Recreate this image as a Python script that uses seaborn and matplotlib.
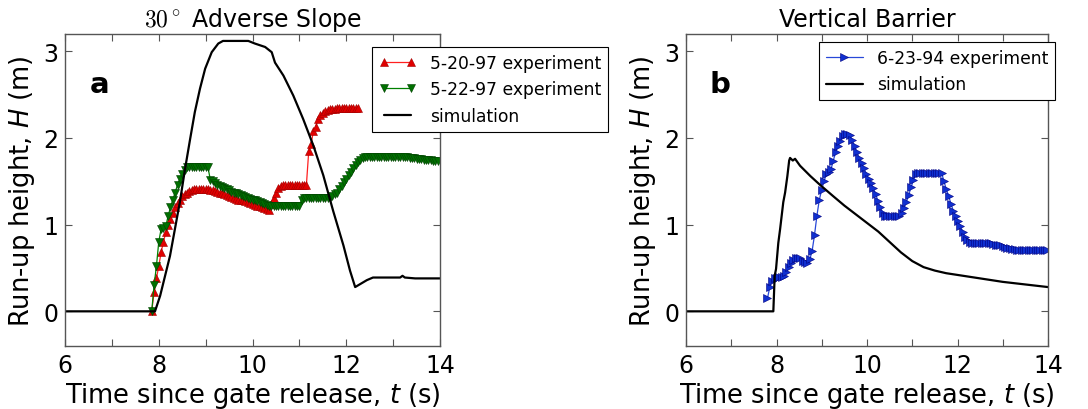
import numpy as np
import matplotlib
matplotlib.use('Agg')
import matplotlib.pyplot as plt
from matplotlib.ticker import MultipleLocator
import seaborn as sns

sns.set_style('ticks')
plt.rcParams['font.family'] = ['DejaVu Sans']
plt.rcParams['mathtext.fontset'] = 'dejavusans'
plt.rcParams['xtick.direction'] = 'in'
plt.rcParams['ytick.direction'] = 'in'
plt.rcParams['text.color'] = 'black'
plt.rcParams['axes.labelcolor'] = 'black'
plt.rcParams['xtick.labelcolor'] = 'black'
plt.rcParams['ytick.labelcolor'] = 'black'

# ==================== data ====================
# experiments: run-up read every frame (start time, frame step)
t0_52097, dt_52097 = 7.85, 0.05
h_52097 = [0.00, 0.22, 0.38, 0.52, 0.68, 0.80, 0.91, 1.00, 1.06, 1.13,
           1.20, 1.25, 1.29, 1.33, 1.35, 1.37, 1.39, 1.40, 1.41, 1.41,
           1.41, 1.41, 1.41, 1.41, 1.41, 1.40, 1.40, 1.39, 1.38, 1.37,
           1.36, 1.35, 1.34, 1.33, 1.32, 1.31, 1.30, 1.29, 1.28, 1.28,
           1.27, 1.26, 1.25, 1.24, 1.23, 1.22, 1.21, 1.20, 1.19, 1.18,
           1.17, 1.24, 1.31, 1.37, 1.42, 1.45, 1.46, 1.46, 1.46, 1.46,
           1.46, 1.46, 1.46, 1.46, 1.46, 1.46, 1.46, 1.85, 1.93, 2.08,
           2.13, 2.22, 2.26, 2.29, 2.31, 2.32, 2.33, 2.34, 2.34, 2.35,
           2.35, 2.35, 2.35, 2.35, 2.35, 2.35, 2.35, 2.35, 2.35]

t0_52297, dt_52297 = 7.85, 0.05
h_52297 = [0.00, 0.30, 0.52, 0.80, 0.95, 0.96, 0.98, 1.10, 1.20, 1.29,
           1.37, 1.46, 1.53, 1.59, 1.63, 1.66, 1.66, 1.66, 1.66, 1.66,
           1.66, 1.66, 1.66, 1.66, 1.66, 1.52, 1.50, 1.48, 1.46, 1.45,
           1.44, 1.42, 1.41, 1.40, 1.38, 1.37, 1.36, 1.35, 1.34, 1.33,
           1.32, 1.31, 1.30, 1.29, 1.28, 1.27, 1.26, 1.25, 1.24, 1.23,
           1.22, 1.22, 1.21, 1.21, 1.21, 1.21, 1.21, 1.21, 1.21, 1.21,
           1.21, 1.21, 1.21, 1.22, 1.29, 1.31, 1.31, 1.31, 1.31, 1.31,
           1.31, 1.31, 1.31, 1.31, 1.31, 1.31, 1.31, 1.33, 1.35, 1.37,
           1.41, 1.45, 1.49, 1.53, 1.57, 1.61, 1.65, 1.69, 1.72, 1.75,
           1.77, 1.78, 1.78, 1.78, 1.78, 1.78, 1.78, 1.78, 1.78, 1.78,
           1.78, 1.78, 1.78, 1.78, 1.78, 1.78, 1.78, 1.78, 1.78, 1.78,
           1.77, 1.77, 1.77, 1.76, 1.76, 1.76, 1.75, 1.75, 1.75, 1.75,
           1.74, 1.74, 1.74]

t0_62394, dt_62394 = 7.80, 0.052
h_62394 = [0.15, 0.28, 0.35, 0.39, 0.39, 0.40, 0.40, 0.41, 0.45, 0.51,
           0.56, 0.59, 0.61, 0.62, 0.61, 0.58, 0.57, 0.56, 0.60, 0.70,
           0.88, 1.10, 1.28, 1.40, 1.50, 1.58, 1.61, 1.64, 1.74, 1.84,
           1.91, 1.97, 2.02, 2.05, 2.05, 2.03, 1.98, 1.91, 1.84, 1.77,
           1.71, 1.65, 1.59, 1.53, 1.48, 1.42, 1.35, 1.27, 1.20, 1.14,
           1.10, 1.10, 1.10, 1.10, 1.10, 1.10, 1.10, 1.13, 1.19, 1.26,
           1.34, 1.43, 1.51, 1.58, 1.60, 1.60, 1.60, 1.60, 1.60, 1.60,
           1.60, 1.60, 1.60, 1.60, 1.60, 1.50, 1.41, 1.33, 1.24, 1.16,
           1.10, 1.04, 0.98, 0.92, 0.86, 0.82, 0.80, 0.79, 0.79, 0.79,
           0.79, 0.79, 0.79, 0.79, 0.79, 0.79, 0.78, 0.77, 0.77, 0.76,
           0.75, 0.74, 0.73, 0.73, 0.72, 0.72, 0.71, 0.71, 0.71, 0.71,
           0.71, 0.71, 0.71, 0.71, 0.71, 0.71, 0.71, 0.71, 0.71, 0.71,
           0.71]

# simulations
t_sim_a = [6.00, 7.92, 8.03, 8.24, 8.45, 8.56, 8.67, 8.77, 8.88, 8.99,
           9.13, 9.27, 9.37, 9.91, 10.05, 10.27, 10.41, 10.48, 10.66, 10.87,
           11.08, 11.30, 11.51, 11.72, 11.94, 12.08, 12.19, 12.44, 12.57, 13.15,
           13.20, 13.25, 13.47, 14.00]
h_sim_a = [0.00, 0.00, 0.18, 0.64, 1.26, 1.64, 1.99, 2.30, 2.57, 2.80,
           2.99, 3.09, 3.12, 3.12, 3.09, 3.05, 2.99, 2.87, 2.72, 2.49,
           2.22, 1.91, 1.57, 1.16, 0.76, 0.47, 0.28, 0.36, 0.39, 0.39,
           0.41, 0.39, 0.38, 0.38]

t_sim_b = [6.00, 7.93, 7.96, 7.99, 8.04, 8.08, 8.15, 8.19, 8.24, 8.28,
           8.30, 8.36, 8.41, 8.52, 8.75, 8.96, 9.25, 9.50, 9.75, 10.00,
           10.25, 10.50, 10.75, 11.00, 11.25, 11.50, 11.75, 12.00, 12.50, 13.00,
           13.50, 14.00]
h_sim_b = [0.00, 0.00, 0.41, 0.49, 0.79, 0.95, 1.26, 1.37, 1.56, 1.74,
           1.77, 1.74, 1.76, 1.68, 1.56, 1.46, 1.33, 1.22, 1.12, 1.02,
           0.92, 0.80, 0.68, 0.58, 0.51, 0.47, 0.44, 0.42, 0.38, 0.34,
           0.31, 0.28]

t_52097 = t0_52097 + dt_52097 * np.arange(len(h_52097))
t_52297 = t0_52297 + dt_52297 * np.arange(len(h_52297))
t_62394 = t0_62394 + dt_62394 * np.arange(len(h_62394))
keep = t_62394 <= 14.0

# ==================== figure ====================
fig = plt.figure(figsize=(10.88, 4.10), dpi=100)
W, H = 1088, 410
ax_a = fig.add_axes([65 / W, 1 - 347 / H, 375 / W, 312 / H])
ax_b = fig.add_axes([686 / W, 1 - 347 / H, 362 / W, 312 / H])

sns.lineplot(x=t_52097, y=h_52097, ax=ax_a, color='#ff2020', lw=0.9,
             marker='^', markersize=5.5, markerfacecolor='#e00000',
             markeredgecolor='#a00000', markeredgewidth=0.4,
             label='5-20-97 experiment')
sns.lineplot(x=t_52297, y=h_52297, ax=ax_a, color='#008000', lw=0.9,
             marker='v', markersize=5.5, markerfacecolor='#007000',
             markeredgecolor='#004000', markeredgewidth=0.4,
             label='5-22-97 experiment')
sns.lineplot(x=t_sim_a, y=h_sim_a, ax=ax_a, color='black', lw=1.6,
             label='simulation')

sns.lineplot(x=t_62394[keep], y=np.array(h_62394)[keep], ax=ax_b,
             color='#2848d8', lw=0.9, marker='>', markersize=5.5,
             markerfacecolor='#1030d0', markeredgecolor='#000080',
             markeredgewidth=0.4, label='6-23-94 experiment')
sns.lineplot(x=t_sim_b, y=h_sim_b, ax=ax_b, color='black', lw=1.6,
             label='simulation')

titles = [r'$30^\circ$ Adverse Slope', 'Vertical Barrier']
letters = ['a', 'b']
for ax, title, letter in zip([ax_a, ax_b], titles, letters):
    ax.set_xlim(6, 14)
    ax.set_ylim(-0.4, 3.2)
    ax.xaxis.set_major_locator(MultipleLocator(2))
    ax.xaxis.set_minor_locator(MultipleLocator(1))
    ax.yaxis.set_major_locator(MultipleLocator(1))
    ax.tick_params(which='both', top=True, right=True, length=5,
                   width=0.8, color='#555555', labelsize=17, pad=5)
    for sp in ax.spines.values():
        sp.set_color('#555555')
        sp.set_linewidth(1.0)
    ax.set_xlabel(r'Time since gate release, $t$ (s)', fontsize=18.5,
                  labelpad=2)
    ax.set_ylabel(r'Run-up height, $H$ (m)', fontsize=18.5, labelpad=4)
    ax.set_title(title, fontsize=17, math_fontfamily='cm', pad=6)
    ax.text(0.065, 0.84, letter, transform=ax.transAxes, fontsize=21,
            fontweight='bold', ha='left', va='center')

leg_a = ax_a.legend(loc='upper left', bbox_to_anchor=(0.819, 0.958),
                    borderaxespad=0, numpoints=2, fontsize=12.3,
                    fancybox=False, framealpha=1, edgecolor='black',
                    handlelength=2.2)
leg_b = ax_b.legend(loc='upper left', bbox_to_anchor=(0.367, 0.974),
                    borderaxespad=0, numpoints=1, fontsize=12.3,
                    fancybox=False, framealpha=1, edgecolor='black',
                    handlelength=2.2)
for leg in [leg_a, leg_b]:
    leg.get_frame().set_linewidth(0.8)

fig.savefig('out.png', dpi=100)
